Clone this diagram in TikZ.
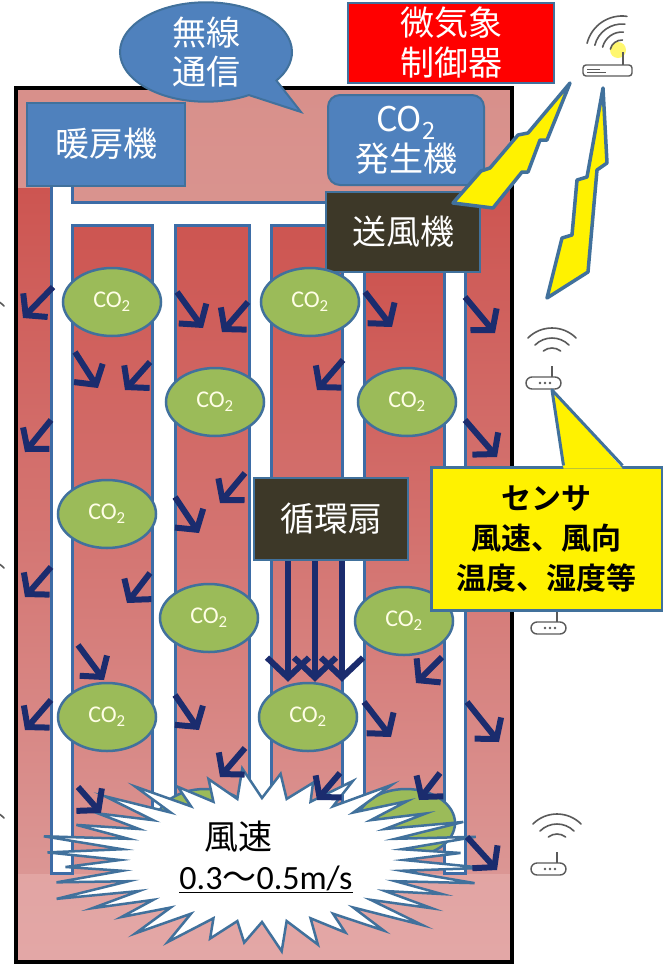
\documentclass[tikz,border=0pt]{standalone}
\usepackage{fontspec}
\usetikzlibrary{arrows.meta,shapes.geometric,shapes.callouts}
\newfontfamily\jp{Noto Sans CJK JP}[BoldFont={* Bold}]
\newfontfamily\calib{Carlito}
\definecolor{boxblue}{HTML}{4F81BD}
\definecolor{edgeblue}{HTML}{41719C}
\definecolor{ductblue}{HTML}{3D6CA6}
\definecolor{navy}{HTML}{1B2C6E}
\definecolor{leaf}{HTML}{9BBB59}
\definecolor{fanbrown}{HTML}{3D3828}
\definecolor{roomtop}{HTML}{D8908B}
\definecolor{roombot}{HTML}{E3A7A6}
\definecolor{striptop}{HTML}{CD5551}
\definecolor{stripbot}{HTML}{DB9694}
\definecolor{icongray}{HTML}{5A5A5A}

\begin{document}
\begin{tikzpicture}[x=1pt, y=-1pt,
	unit/.style={draw=edgeblue, line width=2pt, text=white, align=center, inner sep=0pt, font=\jp\fontsize{34}{40}\selectfont},
	bluebox/.style={unit, fill=boxblue},
	darkbox/.style={unit, fill=fanbrown},
	gas/.style={ellipse, draw=edgeblue, line width=2.5pt, fill=leaf, minimum width=98pt, minimum height=68pt, inner sep=0pt, text=white!90!yellow, font=\calib\fontsize{24}{24}\selectfont},
	wall/.style={draw=ductblue, line width=3pt, line join=miter},
	flow/.style={draw=navy, line width=6pt, -{Straight Barb[length=14pt,width=34pt]}},
	jet/.style={draw=navy, line width=6pt, -{Straight Barb[length=20pt,width=42pt]}},
	bolt/.style={fill=yellow, draw=edgeblue, line width=3.5pt, line join=round},
	sensor/.pic={
		\draw[icongray, line width=1.6pt, line cap=round]
			(135:34pt) arc[start angle=135, end angle=45, radius=34pt]
			(135:24pt) arc[start angle=135, end angle=45, radius=24pt]
			(128:14pt) arc[start angle=128, end angle=52, radius=14pt];
		\draw[icongray, line width=2pt] (0,4) -- (0,15);
		\draw[icongray, line width=1.4pt, rounded corners=6pt] (-26,15) rectangle (9,27);
		\foreach \d in {-12,-7,-2} \fill[icongray] (\d,21) circle (1.3pt);
	},
	router/.pic={
		\fill[yellow!80!white, opacity=.7] (-4,-2) circle (8pt);
		\draw[icongray, line width=1.6pt, line cap=round]
			(82:36pt) arc[start angle=82, end angle=166, radius=36pt]
			(84:28pt) arc[start angle=84, end angle=166, radius=28pt]
			(86:20pt) arc[start angle=86, end angle=166, radius=20pt]
			(88:12pt) arc[start angle=88, end angle=166, radius=12pt];
		\draw[icongray, line width=2pt] (1,0) -- (1,13);
		\draw[icongray, line width=1.4pt, rounded corners=3pt] (-39,13) rectangle (10,24);
		\draw[icongray, line width=1pt] (-35,17) -- (-22,17) (-35,20) -- (-16,20);
	}
]
\useasboundingbox (0,0) rectangle (663,970);
\clip (0,0) rectangle (663,970);
\fill[white] (0,0) rectangle (663,970);

% Room and air columns
\shade[top color=roomtop, bottom color=roombot] (16,88) rectangle (512,962);
\foreach \xa/\xb/\ya in {17/51/188, 72/152/225, 175/249/225, 271/342/225, 364/444/272, 465/511/190}
	\shade[top color=striptop, bottom color=stripbot] (\xa,\ya) rectangle (\xb,873);

% Ducts
\foreach \xa/\ya/\xb/\yb in {51/180/72/873, 72/202/340/225, 152/202/175/873, 249/202/271/873, 342/265/364/873, 444/265/465/873}
	\fill[white] (\xa,\ya) rectangle (\xb,\yb);
\draw[wall] (51,180) -- (51,873) -- (72,873) -- (72,225) -- (152,225) -- (152,873) -- (175,873) -- (175,225)
	-- (249,225) -- (249,873) -- (271,873) -- (271,225) -- (330,225);
\draw[wall] (72,180) -- (72,202) -- (330,202);
\draw[wall] (342,265) -- (342,873) -- (364,873) -- (364,265);
\draw[wall] (444,265) -- (444,873) -- (465,873) -- (465,265);

\draw[line width=4pt] (16,88) rectangle (512,962);

% Units
\node[bluebox, minimum width=158pt, minimum height=83pt] (heater) at (106,144) {暖房機};
\node[bluebox, rounded corners=12pt, minimum width=156pt, minimum height=90pt] (co2gen) at (406,140) {CO\textsubscript{2}\\発生機};
\node[darkbox, minimum width=154pt, minimum height=80pt] (blower) at (403,232) {送風機};
\node[darkbox, minimum width=154pt, minimum height=82pt] (fan) at (331,519) {循環扇};
\node[unit, fill=red, minimum width=206pt, minimum height=80pt] (ctrl) at (451,43) {微気象\\制御器};

% CO2
\foreach \n/\x/\y in {1/112/302, 2/310/302, 3/215/402, 4/407/402, 5/107/514, 6/209/618, 7/404/621, 8/107/717, 9/308/717}
	\node[gas] (co\n) at (\x,\y) {CO\textsubscript{2}};
\node[gas] (co10) at (205,823) {};
\node[gas] (co11) at (406,823) {};

% Wind speed burst
\draw[draw=edgeblue, line width=2.5pt, fill=white]
	plot[variable=\t, samples at={0,1,...,71}]
	({262 + (142 + (212*(1+0.07*sin(\t*131)) - 142)*mod(\t,2))*cos(\t*5)},
	 {860 + (62 + (86*(1+0.07*sin(\t*131)) - 62)*mod(\t,2))*sin(\t*5)}) -- cycle;
\node[align=left, inner sep=0pt, font=\jp\fontsize{34}{40}\selectfont] (wind) at (266,857)
	{\hspace*{25pt}風速\\\underline{\calib\fontsize{34}{40}\selectfont 0.3{\jp 〜}0.5m/s}};

% Circulation fan
\foreach \a/\b in {-43/-20, -16/7, 11/34}
	\draw[jet] ([xshift=\a pt]fan.south) -- ([xshift=\b pt]co9.north);

% Air flow
\foreach \xa/\ya/\xb/\yb in {53/287/23/318, 177/292/203/328, 248/302/222/332, 365/292/392/327, 465/297/495/333,
	75/352/98/388, 150/362/125/390, 343/360/317/390, 51/420/25/452, 465/420/497/457,
	245/473/220/503, 175/497/199/533, 51/567/25/597, 150/573/127/603, 78/645/104/680,
	442/657/416/683, 51/700/25/730, 175/695/199/730, 364/702/391/737, 467/702/499/742,
	245/748/220/777, 340/773/317/800, 440/773/419/800, 78/787/101/813, 467/837/497/870}
	\draw[flow] (\xa,\ya) -- (\xb,\yb);

% Radio links
\draw[bolt] (570,83) -- (528,133) -- (518,135) -- (490,168) -- (481,171) -- (453,203) -- (493,208)
	-- (522,172) -- (528,172) -- (540,140) -- (547,140) -- cycle;
\draw[bolt] (603,88) -- (607,163) -- (597,170) -- (588,272) -- (547,298) -- (562,238) -- (572,235)
	-- (577,180) -- (587,177) -- cycle;

\node[ellipse callout, fill=boxblue, draw=edgeblue, line width=2pt, minimum width=172pt, minimum height=93pt,
	callout absolute pointer={(301,112)}, callout pointer arc=25, inner sep=0pt,
	text=white, align=center, font=\jp\fontsize{34}{39}\selectfont] (radio) at (206,52) {無線\\通信};

% Sensors
\pic at (622,52) {router};
\foreach \x/\y in {552/362, 557/607, 557/848, -20/330, -20/592, -20/842}
	\pic at (\x,\y) {sensor};

\node[fill=yellow, draw=edgeblue, line width=3pt, minimum width=231pt, minimum height=143pt, inner sep=0pt,
	align=center, font=\jp\bfseries\fontsize{30}{40}\selectfont] (sensor) at (546.5,538.5) {センサ\\風速、風向\\温度、湿度等};
\fill[yellow] ([xshift=17pt,yshift=-3pt]sensor.north) -- (552,390) -- ([xshift=76pt,yshift=-3pt]sensor.north) -- cycle;
\draw[edgeblue, line width=3pt, line join=round] ([xshift=17pt]sensor.north) -- (552,390) -- ([xshift=76pt]sensor.north);

\end{tikzpicture}
\end{document}
